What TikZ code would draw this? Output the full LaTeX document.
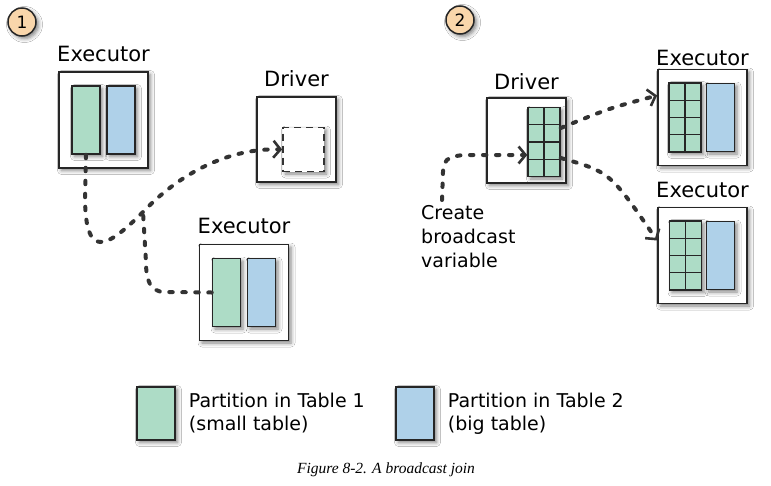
\documentclass[tikz,border=0pt]{standalone}
\usepackage{fontspec}
\setmainfont{DejaVu Sans}
\newfontfamily\capfont{Liberation Serif}
\usetikzlibrary{positioning,calc,arrows.meta,shadows.blur}
\definecolor{partgreen}{HTML}{ADDCC6}
\definecolor{partblue}{HTML}{AFD1E9}
\definecolor{stepbg}{HTML}{F9D6AB}
\definecolor{inkgray}{HTML}{333333}

\begin{document}
\begin{tikzpicture}[x=1pt,y=-1pt]
%define
\tikzstyle{softshadow} = [blur shadow={shadow xshift=2.5pt, shadow yshift=-2.5pt, shadow blur radius=4pt, shadow opacity=50}]
\tikzstyle{machine} = [rectangle, draw=black!85, line width=1.8pt, fill=white, inner sep=0pt, softshadow]
\tikzstyle{machine_e} = [machine, minimum width=89pt, minimum height=96pt]
\tikzstyle{machine_d} = [machine, minimum width=79pt, minimum height=85pt]
\tikzstyle{part_g} = [rectangle, draw=black!85, line width=1.5pt, fill=partgreen, minimum width=28pt, minimum height=68pt, inner sep=0pt, softshadow]
\tikzstyle{part_b} = [part_g, fill=partblue]
\tikzstyle{part_grid} = [part_g, minimum width=32pt, minimum height=69pt, path picture={
  \draw[line width=1.3pt, black!85] (path picture bounding box.north) -- (path picture bounding box.south);
  \foreach \f in {0.25,0.5,0.75}
    \draw[line width=1.3pt, black!85] ($(path picture bounding box.north west)!\f!(path picture bounding box.south west)$) -- ($(path picture bounding box.north east)!\f!(path picture bounding box.south east)$);}]
\tikzstyle{slot} = [rectangle, draw=inkgray, dash pattern=on 7pt off 5pt, line width=1.8pt, fill=white, minimum width=41pt, minimum height=44pt, inner sep=0pt, softshadow]
\tikzstyle{roletext} = [font=\fontsize{21}{24}\selectfont, inner sep=1pt]
\tikzstyle{note} = [font=\fontsize{19}{23}\selectfont, align=left, inner sep=0pt]
\tikzstyle{stepnum} = [circle, draw=black!85, line width=1.5pt, fill=stepbg, minimum size=28pt, inner sep=0pt, font=\fontsize{17}{17}\selectfont, softshadow]
\tikzstyle{bcast} = [draw=inkgray, line width=4pt, dash pattern=on 3.5pt off 9.5pt, line cap=round, -{Straight Barb[length=7pt, width=17pt, line width=2.6pt]}]

\path[use as bounding box, fill=white] (0,0) rectangle (771,485);

%step 1
\node[stepnum] (step1) at (22,22) {1};
\node[machine_e] (exec1) at (103.5,120) {};
\node[roletext, above=8pt of exec1] (exec1_t) {Executor};
\node[part_g, xshift=-17.5pt] (g1) at (exec1) {};
\node[part_b, xshift=17.5pt] (b1) at (exec1) {};
\node[machine_d] (drv1) at (296.5,139.5) {};
\node[roletext, above=8pt of drv1] (drv1_t) {Driver};
\node[slot, xshift=7pt, yshift=-10pt] (dsq) at (drv1) {};
\node[machine_e] (exec2) at (244,292.5) {};
\node[roletext, above=9pt of exec2] (exec2_t) {Executor};
\node[part_g, xshift=-17.5pt] (g2) at (exec2) {};
\node[part_b, xshift=17.5pt] (b2) at (exec2) {};
%line
\draw[bcast] (g1.south) -- (85,200) .. controls (86,258) and (105,250) .. (143,212) .. controls (185,168) and (235,148) .. (dsq.west);
\draw[bcast, -] (g2.west) -- (165,292) .. controls (150,292) and (146,280) .. (146,262) -- (143,212);

%step 2
\node[stepnum] (step2) at (460,20) {2};
\node[machine_d] (drv2) at (526.5,140.5) {};
\node[roletext, above=6pt of drv2] (drv2_t) {Driver};
\node[part_grid, xshift=17.5pt, yshift=-1.5pt] (gd) at (drv2) {};
\node[machine_e] (et) at (702.5,117.5) {};
\node[roletext, above=2pt of et] (et_t) {Executor};
\node[part_grid, xshift=-17.5pt] (gt) at (et) {};
\node[part_b, xshift=18pt] (bt) at (et) {};
\node[machine_e] (eb) at (702.5,255.5) {};
\node[roletext, above=8pt of eb] (eb_t) {Executor};
\node[part_grid, xshift=-17pt] (gb) at (eb) {};
\node[part_b, xshift=18pt] (bb) at (eb) {};
\node[note, anchor=north west, font=\fontsize{19}{24}\selectfont] (bc_note) at (421,205) {Create\\broadcast\\variable};
\coordinate (cstart) at ([xshift=21pt, yshift=5pt]bc_note.north west);
%line
\draw[bcast] (cstart) -- (443,172) .. controls (443,157) and (452,155) .. (472,155) -- ([yshift=-13pt]gd.west);
\draw[bcast] ([yshift=14pt]gd.east) .. controls (610,108) .. ([yshift=22pt]et.west);
\draw[bcast] ([yshift=-16pt]gd.east) .. controls (610,172) .. ([yshift=15pt]eb.west);

%legend
\node[part_g, minimum width=38pt, minimum height=53pt] (leg_g) at (156,413.5) {};
\node[note, right=13pt of leg_g] (leg_gt) {Partition in Table 1\\(small table)};
\node[part_b, minimum width=38pt, minimum height=53pt] (leg_b) at (415,413.5) {};
\node[note, right=13pt of leg_b] (leg_bt) {Partition in Table 2\\(big table)};
\node[font=\capfont\itshape\fontsize{15.5}{18}\selectfont] (caption) at (386,470) {Figure 8-2. A broadcast join};

\end{tikzpicture}
\end{document}
